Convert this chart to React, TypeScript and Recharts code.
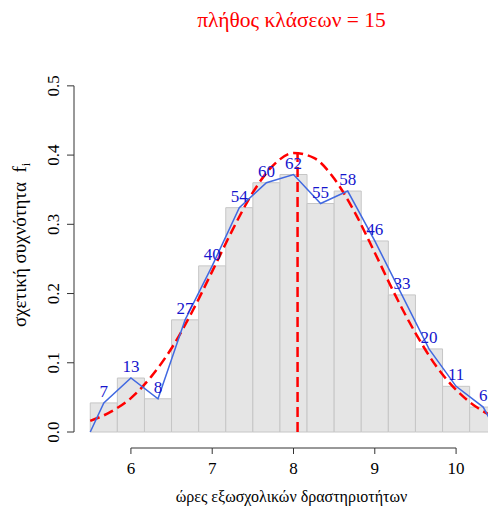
import { ComposedChart, Line, XAxis, YAxis, ReferenceArea, ReferenceLine, LabelList, Label } from "recharts";

// class limits (15 classes of width 1/3) and their counts
const BREAKS = [5.5, 5.8333, 6.1667, 6.5, 6.8333, 7.1667, 7.5, 7.8333, 8.1667, 8.5, 8.8333, 9.1667, 9.5, 9.8333, 10.1667, 10.5];
const COUNTS = [7, 13, 8, 27, 40, 54, 60, 62, 55, 58, 46, 33, 20, 11, 6];

// fitted normal curve
const CURVE_X = [5.5, 5.75, 6, 6.25, 6.5, 6.75, 7, 7.25, 7.5, 7.75, 8, 8.25, 8.5, 8.75, 9, 9.25, 9.5, 9.75, 10, 10.25, 10.5];
const CURVE_Y = [0.016, 0.029, 0.049, 0.08, 0.121, 0.173, 0.232, 0.292, 0.346, 0.385, 0.403, 0.396, 0.366, 0.318, 0.259, 0.198, 0.143, 0.096, 0.061, 0.036, 0.02];
const MEAN_X = 8.05;
const MEAN_Y = 0.403;

const X_TICKS = [6, 7, 8, 9, 10];
const Y_TICKS = [0, 0.1, 0.2, 0.3, 0.4, 0.5];

const TITLE = "πλήθος κλάσεων = 15";
const X_TITLE = "ώρες εξωσχολικών δραστηριοτήτων";
const Y_TITLE = "σχετική συχνότητα  ";

const SERIF = '"Liberation Serif", "Times New Roman", serif';
const AXIS = "#333";

const total = COUNTS.reduce((a, b) => a + b, 0);
const bins = COUNTS.map((count, i) => {
  const x0 = BREAKS[i];
  const x1 = BREAKS[i + 1];
  return { x0, x1, x: (x0 + x1) / 2, y: count / (total * (x1 - x0)), count };
});
const polygon = [
  { x: BREAKS[0], y: 0 },
  ...bins.map((b) => ({ x: b.x, y: b.y, count: b.count })),
  { x: BREAKS[BREAKS.length - 1], y: 0 },
];
const curve = CURVE_X.map((x, i) => ({ x, y: CURVE_Y[i] }));

// R style axes: the line only runs between first and last tick
let prevX = 0;
function XTick(props: any) {
  const { x, y, payload, index } = props;
  const from = index === 0 ? x : prevX;
  prevX = x;
  return (
    <g>
      <line x1={from} y1={y} x2={x} y2={y} stroke={AXIS} />
      <line x1={x} y1={y} x2={x} y2={y + 6} stroke={AXIS} />
      <text x={x} y={y + 26} textAnchor="middle" fontSize={17} fontFamily={SERIF} fill="#000">
        {payload.value}
      </text>
    </g>
  );
}

let prevY = 0;
function YTick(props: any) {
  const { x, y, payload, index } = props;
  const from = index === 0 ? y : prevY;
  prevY = y;
  const lx = x - 15;
  return (
    <g>
      <line x1={x} y1={from} x2={x} y2={y} stroke={AXIS} />
      <line x1={x} y1={y} x2={x - 7} y2={y} stroke={AXIS} />
      <text x={lx} y={y} transform={`rotate(-90 ${lx} ${y})`} textAnchor="middle" fontSize={17} fontFamily={SERIF} fill="#000">
        {Number(payload.value).toFixed(1)}
      </text>
    </g>
  );
}

function YTitle(props: any) {
  const { viewBox } = props;
  const cx = 26;
  const cy = viewBox.y + viewBox.height / 2 - 15;
  return (
    <text
      x={cx}
      y={cy}
      transform={`rotate(-90 ${cx} ${cy})`}
      textAnchor="middle"
      fontSize={19}
      fontFamily={SERIF}
      fill="#000"
      style={{ whiteSpace: "pre" }}
    >
      {Y_TITLE}
      <tspan>f</tspan>
      <tspan fontSize={12} dy={4}>i</tspan>
    </text>
  );
}

export default function App() {
  return (
    <div style={{ position: "fixed", left: 0, top: 0, width: 488, height: 509, overflow: "hidden", background: "#fff" }}>
      <div
        style={{
          position: "absolute",
          left: 0,
          width: 583,
          top: 6,
          textAlign: "center",
          color: "#ff0000",
          fontFamily: SERIF,
          fontSize: 21.5,
          lineHeight: "28px",
          whiteSpace: "nowrap",
        }}
      >
        {TITLE}
      </div>
      <ComposedChart width={513} height={509} margin={{ top: 72, right: 0, bottom: 0, left: 0 }}>
        <XAxis
          dataKey="x"
          type="number"
          domain={[5.3, 10.7]}
          allowDataOverflow
          ticks={X_TICKS}
          interval={0}
          axisLine={false}
          tickLine={false}
          tickSize={0}
          tickMargin={0}
          tick={XTick}
          height={61}
        >
          <Label
            content={(p: any) => (
              <text
                x={p.viewBox.x + p.viewBox.width / 2 - 2}
                y={502}
                textAnchor="middle"
                fontSize={16}
                fontFamily={SERIF}
                fill="#000"
              >
                {X_TITLE}
              </text>
            )}
          />
        </XAxis>
        <YAxis
          type="number"
          domain={[-0.0231, 0.52]}
          allowDataOverflow
          ticks={Y_TICKS}
          interval={0}
          axisLine={false}
          tickLine={false}
          tickSize={0}
          tickMargin={0}
          tick={YTick}
          width={74}
        >
          <Label content={YTitle} />
        </YAxis>
        {bins.map((b) => (
          <ReferenceArea
            key={b.x0}
            x1={b.x0}
            x2={b.x1}
            y1={0}
            y2={b.y}
            fill="#e5e5e5"
            fillOpacity={1}
            stroke="#c6c6c6"
            strokeWidth={1}
          />
        ))}
        <Line
          data={curve}
          dataKey="y"
          type="monotone"
          stroke="#ff0000"
          strokeWidth={2.5}
          strokeDasharray="10 5"
          dot={false}
          activeDot={false}
          isAnimationActive={false}
        />
        <ReferenceLine
          segment={[
            { x: MEAN_X, y: 0 },
            { x: MEAN_X, y: MEAN_Y },
          ]}
          stroke="#ff0000"
          strokeWidth={2.5}
          strokeDasharray="10 5"
        />
        <Line
          data={polygon}
          dataKey="y"
          type="linear"
          stroke="#4169e1"
          strokeWidth={1.5}
          dot={false}
          activeDot={false}
          isAnimationActive={false}
        >
          <LabelList dataKey="count" position="top" offset={6} fill="#1515cd" fontSize={17} fontFamily={SERIF} />
        </Line>
      </ComposedChart>
    </div>
  );
}
